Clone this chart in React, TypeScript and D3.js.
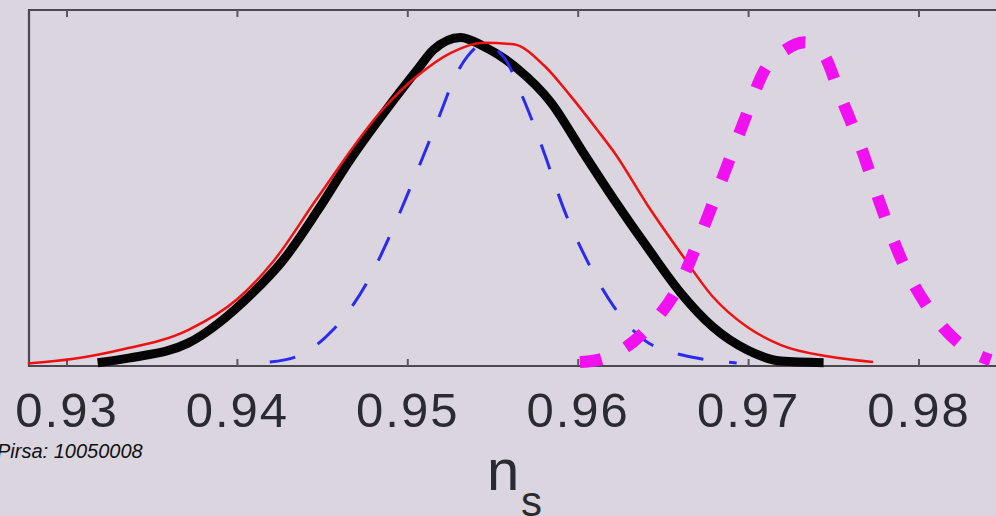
import React, { useEffect, useRef } from 'react';
import * as d3 from 'd3';

// n_s posterior curves (x = n_s, y = normalised likelihood)
const blackX = [0.9318, 0.9337, 0.9371, 0.9409, 0.9427, 0.9447, 0.9466, 0.9486, 0.9506, 0.9515, 0.9531, 0.9544, 0.9564, 0.9584, 0.9603, 0.9621, 0.9641, 0.966, 0.9679, 0.9699, 0.9719, 0.9744];
const blackY = [0.01, 0.025, 0.07, 0.224, 0.325, 0.475, 0.63, 0.775, 0.91, 0.968, 1.006, 0.98, 0.912, 0.807, 0.653, 0.51, 0.36, 0.225, 0.12, 0.05, 0.015, 0.01];

const redX = [0.9277, 0.9304, 0.9331, 0.9371, 0.94, 0.9421, 0.9447, 0.9486, 0.9506, 0.9525, 0.9544, 0.9562, 0.958, 0.9595, 0.9611, 0.9621, 0.9641, 0.966, 0.9679, 0.9699, 0.9719, 0.9748, 0.9773];
const redY = [0.008, 0.022, 0.049, 0.11, 0.205, 0.32, 0.515, 0.79, 0.89, 0.958, 0.99, 0.985, 0.92, 0.83, 0.724, 0.655, 0.49, 0.347, 0.212, 0.12, 0.064, 0.028, 0.012];

const blueX = [0.9419, 0.9437, 0.9456, 0.9476, 0.9491, 0.9501, 0.9517, 0.9529, 0.9535, 0.9544, 0.9556, 0.9568, 0.958, 0.9591, 0.9605, 0.9621, 0.9646, 0.9693];
const blueY = [0.012, 0.034, 0.11, 0.255, 0.417, 0.54, 0.745, 0.899, 0.948, 0.985, 0.948, 0.816, 0.653, 0.488, 0.325, 0.181, 0.058, 0.009];

const magentaX = [0.9601, 0.9611, 0.9641, 0.966, 0.9673, 0.9685, 0.9697, 0.9709, 0.9722, 0.9733, 0.9744, 0.9754, 0.9766, 0.9777, 0.9789, 0.9805, 0.9829, 0.9842];
const magentaY = [0.012, 0.018, 0.117, 0.255, 0.417, 0.58, 0.745, 0.902, 0.969, 0.991, 0.954, 0.825, 0.669, 0.5, 0.334, 0.181, 0.049, 0.018];

const tickValues = [0.93, 0.94, 0.95, 0.96, 0.97, 0.98];
const tickLabels = ['0.93', '0.94', '0.95', '0.96', '0.97', '0.98'];

const App = () => {
  const ref = useRef<SVGSVGElement>(null);

  useEffect(() => {
    const svg = d3.select(ref.current);
    svg.selectAll('*').remove();

    const W = 996;
    const H = 516;
    const left = 29;
    const right = 1000;
    const top = 10;
    const bottom = 366;

    const x = d3.scaleLinear().domain([0.93, 0.98]).range([67, 919]);
    const y = d3.scaleLinear().domain([0, 1.09]).range([bottom, top]);

    svg.append('rect').attr('width', W).attr('height', H).attr('fill', '#dad5de');

    // frame
    svg.append('path')
      .attr('d', `M${right},${top}H${left}V${bottom}H${right}`)
      .attr('fill', 'none')
      .attr('stroke', '#4b4850')
      .attr('stroke-width', 2.2);

    // inward ticks, top and bottom
    tickValues.forEach((v) => {
      svg.append('line')
        .attr('x1', x(v)).attr('x2', x(v))
        .attr('y1', top).attr('y2', top + 7)
        .attr('stroke', '#5a5760').attr('stroke-width', 2);
      svg.append('line')
        .attr('x1', x(v)).attr('x2', x(v))
        .attr('y1', bottom).attr('y2', bottom - 7)
        .attr('stroke', '#5a5760').attr('stroke-width', 2);
    });

    const line = d3.line<[number, number]>()
      .x((d) => x(d[0]))
      .y((d) => y(d[1]))
      .curve(d3.curveMonotoneX);

    const series = [
      { xs: blackX, ys: blackY, color: '#050505', width: 9, dash: null },
      { xs: redX, ys: redY, color: '#ee1111', width: 2.5, dash: null },
      { xs: blueX, ys: blueY, color: '#2a2af0', width: 3, dash: '26 26' },
      { xs: magentaX, ys: magentaY, color: '#f010f0', width: 12, dash: '22 27' },
    ];

    series.forEach((s) => {
      const pts = s.xs.map((v, i) => [v, s.ys[i]] as [number, number]);
      const p = svg.append('path')
        .attr('d', line(pts))
        .attr('fill', 'none')
        .attr('stroke', s.color)
        .attr('stroke-width', s.width)
        .attr('stroke-linejoin', 'round');
      if (s.dash) p.attr('stroke-dasharray', s.dash);
    });

    // tick labels
    tickValues.forEach((v, i) => {
      svg.append('text')
        .attr('x', x(v))
        .attr('y', 427)
        .attr('text-anchor', 'middle')
        .attr('font-family', 'Liberation Sans, Arial, sans-serif')
        .attr('font-size', 49)
        .attr('letter-spacing', 2)
        .attr('fill', '#2b2a30')
        .text(tickLabels[i]);
    });

    svg.append('text')
      .attr('x', -3)
      .attr('y', 458)
      .attr('font-family', 'Liberation Sans, Arial, sans-serif')
      .attr('font-style', 'italic')
      .attr('font-size', 20)
      .attr('fill', '#111')
      .text('Pirsa: 10050008');

    svg.append('text')
      .attr('x', 487)
      .attr('y', 490)
      .attr('font-family', 'Liberation Sans, Arial, sans-serif')
      .attr('font-size', 58)
      .attr('fill', '#2b2a30')
      .text('n');

    svg.append('text')
      .attr('x', 521)
      .attr('y', 516)
      .attr('font-family', 'Liberation Sans, Arial, sans-serif')
      .attr('font-size', 42)
      .attr('fill', '#2b2a30')
      .text('s');
  }, []);

  return (
    <svg
      ref={ref}
      width={996}
      height={516}
      style={{ position: 'fixed', left: 0, top: 0, display: 'block' }}
    />
  );
};

export default App;
